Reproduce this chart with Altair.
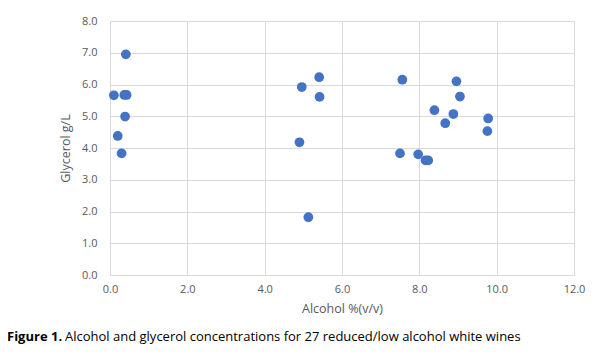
import altair as alt
import pandas as pd

alcohol = [0.41, 0.10, 0.37, 0.43, 0.39, 0.20, 0.30,
           5.41, 4.96, 5.42, 4.90, 5.13,
           7.56, 7.50, 7.97, 8.16, 8.23, 8.39, 8.67,
           8.96, 9.05, 8.88, 9.78, 9.76]
glycerol = [6.95, 5.66, 5.67, 5.67, 4.99, 4.38, 3.83,
            6.23, 5.92, 5.61, 4.18, 1.82,
            6.15, 3.83, 3.80, 3.61, 3.61, 5.19, 4.78,
            6.10, 5.62, 5.07, 4.93, 4.53]

caption_bold = "Figure 1."
caption_text = "Alcohol and glycerol concentrations for 27 reduced/low alcohol white wines"

df = pd.DataFrame({"alcohol": alcohol, "glycerol": glycerol})

FONT = "Open Sans"

points = alt.Chart(df).mark_point(
    filled=True, shape="circle", size=95, color="#4472C4", opacity=1
).encode(
    x=alt.X("alcohol:Q", scale=alt.Scale(domain=[0, 12], nice=False),
            axis=alt.Axis(values=[0, 2, 4, 6, 8, 10, 12], format=".1f",
                          title="Alcohol %(v/v)", titlePadding=8, labelPadding=8)),
    y=alt.Y("glycerol:Q", scale=alt.Scale(domain=[0, 8], nice=False),
            axis=alt.Axis(values=[0, 1, 2, 3, 4, 5, 6, 7, 8], format=".1f",
                          title="Glycerol g/L", titlePadding=9, labelPadding=13)),
)

cap_df = pd.DataFrame({"b": [caption_bold], "t": [caption_text]})
cap_bold = alt.Chart(cap_df).mark_text(
    align="left", baseline="middle", font=FONT, fontSize=13,
    fontWeight="bold", color="#000000"
).encode(x=alt.value(-103), y=alt.value(316), text="b:N")
cap_reg = alt.Chart(cap_df).mark_text(
    align="left", baseline="middle", font=FONT, fontSize=13,
    color="#000000"
).encode(x=alt.value(-45), y=alt.value(316), text="t:N")

chart = alt.layer(points, cap_bold, cap_reg).properties(
    width=464, height=254,
    autosize=alt.AutoSizeParams(type="none"),
    padding={"left": 102, "top": 13, "right": 22, "bottom": 80},
).configure_view(stroke=None).configure_axis(
    grid=True, gridColor="#d9d9d9", gridWidth=1,
    domain=False, ticks=False, labelFlush=False,
    labelFont=FONT, labelFontSize=11, labelColor="#595959",
    titleFont=FONT, titleFontSize=12.5, titleColor="#595959",
    titleFontWeight="normal",
).configure_axisX(domain=True, domainColor="#d9d9d9")

chart.save("out.html", embed_options={"renderer": "svg", "actions": False})
